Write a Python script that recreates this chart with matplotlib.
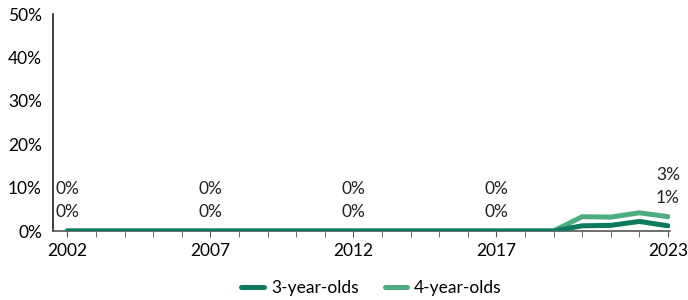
import matplotlib.pyplot as plt
from matplotlib.ticker import FixedLocator

plt.rcParams['font.family'] = ['Lato', 'DejaVu Sans']

years = list(range(2002, 2024))
three_year = [0] * 18 + [1.2, 1.3, 2.2, 1.2]
four_year = [0] * 18 + [3.3, 3.2, 4.2, 3.3]
label_years = [2002, 2007, 2012, 2017, 2023]
y_ticks = [0, 10, 20, 30, 40, 50]

dark = "#0b7a5f"
light = "#4cae80"
fs = 12.5

fig = plt.figure(figsize=(6.88, 3.0), dpi=100)
ax = fig.add_axes([53 / 688, 0.23, (670 - 53) / 688, 0.953 - 0.23])

ax.plot(years, four_year, color=light, lw=3.6, solid_capstyle="round", label="4-year-olds", zorder=3)
ax.plot(years, three_year, color=dark, lw=3.6, solid_capstyle="round", label="3-year-olds", zorder=4)

# Beschriftungen: untere = 3-Jährige, obere = 4-Jährige, über dem höheren Wert gestapelt
for yr in label_years:
    i = years.index(yr)
    base = max(three_year[i], four_year[i]) + 4.3
    ax.text(yr, base + 5.3, f"{four_year[i]:.0f}%", ha="center", va="center", fontsize=fs, color="#222222")
    ax.text(yr, base, f"{three_year[i]:.0f}%", ha="center", va="center", fontsize=fs, color="#222222")

ax.set_xlim(2001.5, 2023.07)
ax.set_ylim(0, 50)
ax.set_yticks(y_ticks)
ax.set_yticklabels([f"{v}%" for v in y_ticks])
ax.set_xticks(label_years)
ax.set_xticklabels([str(y) for y in label_years])
ax.xaxis.set_minor_locator(FixedLocator(years))
ax.tick_params(axis="x", which="both", length=4, color="#555555", labelsize=fs, pad=5)
ax.tick_params(axis="y", length=0, labelsize=fs, pad=8)

for s in ["top", "right"]:
    ax.spines[s].set_visible(False)
ax.spines["left"].set_color("#222222")
ax.spines["bottom"].set_color("#555555")
ax.spines["left"].set_linewidth(1.2)
ax.spines["bottom"].set_linewidth(1.2)

handles, labels = ax.get_legend_handles_labels()
fig.legend(handles[::-1], labels[::-1], loc="center", bbox_to_anchor=(0.54, 0.04), ncol=2,
           frameon=False, fontsize=fs, handlelength=1.3, columnspacing=1.5, handletextpad=0.4)

fig.savefig("out.png", dpi=100)
